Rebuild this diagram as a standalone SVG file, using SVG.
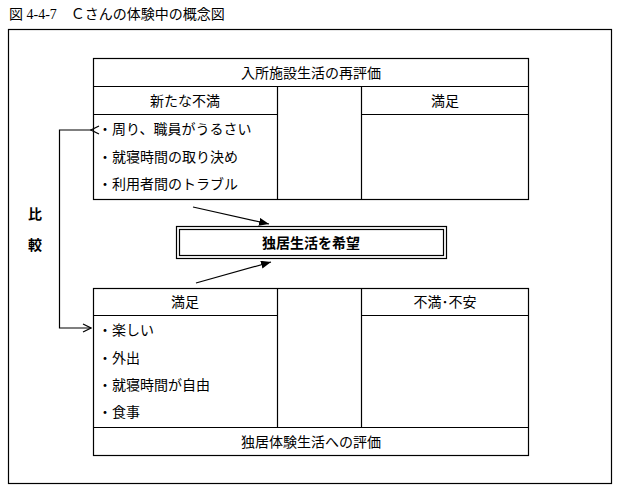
<svg xmlns="http://www.w3.org/2000/svg" width="620" height="488" viewBox="0 0 620 488">
<style>
text{font-family:"Noto Sans CJK JP","Noto Sans CJK SC",sans-serif;font-size:14px;fill:#000}
.t{font-family:"Liberation Serif","Noto Sans CJK JP",serif;font-size:14px}
.c{text-anchor:middle}
.b{font-weight:bold}
.ln{stroke:#000;stroke-width:1.2;fill:none}
.ar{stroke:#000;stroke-width:1.2;fill:none}
</style>
<defs>
<marker id="tri" markerWidth="10" markerHeight="8" refX="10" refY="4" orient="auto" markerUnits="userSpaceOnUse"><path d="M0,0L10,4L0,8z" fill="#000"/></marker>
<marker id="open" markerWidth="10" markerHeight="10" refX="9" refY="5" orient="auto" markerUnits="userSpaceOnUse"><path d="M1,1L9,5L1,9" fill="none" stroke="#000" stroke-width="1.2"/></marker>
</defs>
<text class="t" x="9" y="19">図 4-4-7　Ｃさんの体験中の概念図</text>
<rect x="8.5" y="29.5" width="603" height="454" class="ln"/>
<g id="top">
<rect x="93.5" y="58.5" width="435" height="141" class="ln"/>
<path d="M93.5 86.5H528.5M93.5 114.5H277.5M361.5 114.5H528.5M277.5 86.5V199.5M361.5 86.5V199.5" class="ln"/>
<text class="c" x="311" y="78">入所施設生活の再評価</text>
<text class="c" x="185" y="106">新たな不満</text>
<text class="c" x="445" y="106">満足</text>
<text x="98" y="134">・周り、職員がうるさい</text>
<text x="98" y="162">・就寝時間の取り決め</text>
<text x="98" y="189">・利用者間のトラブル</text>
</g>
<g id="center">
<rect x="176.5" y="226.5" width="270" height="32" class="ln"/>
<rect x="179.5" y="229.5" width="264" height="26" class="ln"/>
<text class="c b" x="311" y="248">独居生活を希望</text>
</g>
<g id="bottom">
<rect x="93.5" y="288.5" width="435" height="167" class="ln"/>
<path d="M93.5 315.5H277.5M361.5 315.5H528.5M93.5 427.5H528.5M277.5 288.5V427.5M361.5 288.5V427.5" class="ln"/>
<text class="c" x="185" y="307">満足</text>
<text class="c" x="445" y="307">不満･不安</text>
<text x="98" y="335">・楽しい</text>
<text x="98" y="363">・外出</text>
<text x="98" y="390">・就寝時間が自由</text>
<text x="98" y="417">・食事</text>
<text class="c" x="311" y="447">独居体験生活への評価</text>
</g>
<g id="compare">
<text class="b" x="28" y="219">比</text>
<text class="b" x="28" y="250">較</text>
</g>
<g id="connectors">
<path d="M91 130H59.5V328H91" class="ar" marker-start="url(#open)" marker-end="url(#open)"/>
<path d="M193 207L269 224" class="ar" marker-end="url(#tri)"/>
<path d="M196 283L271 262" class="ar" marker-end="url(#tri)"/>
</g>
</svg>
